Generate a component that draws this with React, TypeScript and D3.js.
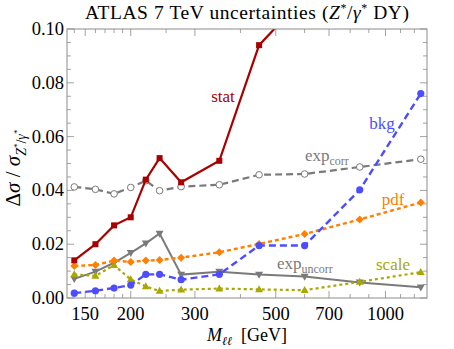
import React from "react";
import * as d3 from "d3";

const masses = [140, 160, 180, 200, 220, 240, 275, 350, 450, 600, 850, 1250];
const statVals = [0.014, 0.020, 0.027, 0.030, 0.044, 0.052, 0.043, 0.051, 0.094, 0.112];
const expCorrVals = [0.0413, 0.0404, 0.0387, 0.0411, 0.0436, 0.0399, 0.0414, 0.0421, 0.0458, 0.0461, 0.0487, 0.0516];
const bkgVals = [0.0018, 0.0027, 0.0037, 0.0048, 0.0088, 0.0088, 0.0068, 0.0088, 0.0195, 0.0195, 0.0402, 0.0760];
const pdfVals = [0.0119, 0.0123, 0.0139, 0.0134, 0.0139, 0.0141, 0.0150, 0.0170, 0.0201, 0.0238, 0.0292, 0.0355];
const scaleVals = [0.0088, 0.0082, 0.0122, 0.0069, 0.0043, 0.0026, 0.0031, 0.0035, 0.0032, 0.0029, 0.0060, 0.0096];
const expUncorrVals = [0.0071, 0.0098, 0.0131, 0.0168, 0.0203, 0.0240, 0.0087, 0.0098, 0.0087, 0.0080, 0.0058, 0.0040];
const xTickVals = [150, 200, 300, 500, 700, 1000];
const xMinorVals = [140, 160, 170, 180, 190, 250, 400, 600, 800, 900, 1100, 1200];
const yTickVals = [0, 0.02, 0.04, 0.06, 0.08, 0.1];

const L = 67, R = 427, T = 29, B = 298;
const FONT = "'Liberation Serif', 'DejaVu Serif', serif";

type Marker = "square" | "ocircle" | "circle" | "diamond" | "tri" | "dtri";

export default function App() {
  const x = d3.scaleLog().domain([133.7, 1300]).range([L, R]);
  const y = d3.scaleLinear().domain([0, 0.1]).range([B, T]);
  const line = d3.line<[number, number]>().x(d => x(d[0])).y(d => y(d[1]));

  const series: { vals: number[]; color: string; dash?: string; width: number; marker: Marker }[] = [
    { vals: expCorrVals, color: "#7a7a7a", dash: "7,4", width: 2.2, marker: "ocircle" },
    { vals: expUncorrVals, color: "#7a7a7a", width: 2, marker: "dtri" },
    { vals: scaleVals, color: "#a8a800", dash: "3,3", width: 2.2, marker: "tri" },
    { vals: pdfVals, color: "#ff7f00", dash: "4,3", width: 2.4, marker: "diamond" },
    { vals: bkgVals, color: "#4d4dff", dash: "7,4", width: 2.4, marker: "circle" },
    { vals: statVals, color: "#a80000", width: 2.2, marker: "square" },
  ];

  const drawMarker = (m: Marker, cx: number, cy: number, color: string, key: string) => {
    switch (m) {
      case "square":
        return <rect key={key} x={cx - 3} y={cy - 3} width={6} height={6} fill={color} />;
      case "circle":
        return <circle key={key} cx={cx} cy={cy} r={3.6} fill={color} />;
      case "ocircle":
        return <circle key={key} cx={cx} cy={cy} r={3.3} fill="white" stroke={color} strokeWidth={1} />;
      case "diamond":
        return <path key={key} d={`M${cx},${cy - 4}L${cx + 4},${cy}L${cx},${cy + 4}L${cx - 4},${cy}Z`} fill={color} />;
      case "tri":
        return <path key={key} d={`M${cx},${cy - 4.2}L${cx + 4},${cy + 2.8}L${cx - 4},${cy + 2.8}Z`} fill={color} />;
      case "dtri":
        return <path key={key} d={`M${cx},${cy + 4.2}L${cx + 4},${cy - 2.8}L${cx - 4},${cy - 2.8}Z`} fill={color} />;
    }
  };

  const yMinor = d3.range(0, 0.1001, 0.005).filter(v => Math.abs((v * 100) % 2) > 1e-6 && Math.abs(((v * 100) % 2) - 2) > 1e-6);

  return (
    <svg width={454} height={349} style={{ position: "absolute", left: 0, top: 0, background: "white" }} fontFamily={FONT}>
      <defs>
        <clipPath id="plotclip">
          <rect x={L} y={T} width={R - L} height={B - T} />
        </clipPath>
      </defs>
      {/* frame ticks */}
      <g stroke="#8c8c8c" strokeWidth={0.8}>
        {yTickVals.map((v, i) => (
          <g key={"yt" + i}>
            <line x1={L} x2={L + 7} y1={y(v)} y2={y(v)} />
            <line x1={R} x2={R - 7} y1={y(v)} y2={y(v)} />
          </g>
        ))}
        {yMinor.map((v, i) => (
          <g key={"ym" + i}>
            <line x1={L} x2={L + 4} y1={y(v)} y2={y(v)} />
            <line x1={R} x2={R - 4} y1={y(v)} y2={y(v)} />
          </g>
        ))}
        {xTickVals.map((v, i) => (
          <g key={"xt" + i}>
            <line x1={x(v)} x2={x(v)} y1={B} y2={B - 7} />
            <line x1={x(v)} x2={x(v)} y1={T} y2={T + 7} />
          </g>
        ))}
        {xMinorVals.map((v, i) => (
          <g key={"xm" + i}>
            <line x1={x(v)} x2={x(v)} y1={B} y2={B - 4} />
            <line x1={x(v)} x2={x(v)} y1={T} y2={T + 4} />
          </g>
        ))}
      </g>
      <g clipPath="url(#plotclip)">
        {series.map((s, si) => {
          const pts: [number, number][] = s.vals.map((v, i) => [masses[i], v]);
          return (
            <g key={"s" + si}>
              <path d={line(pts) || ""} fill="none" stroke={s.color} strokeWidth={s.width} strokeDasharray={s.dash} />
              {pts.filter(p => p[1] <= 0.1).map((p, i) => drawMarker(s.marker, x(p[0]), y(p[1]), s.color, `m${si}-${i}`))}
            </g>
          );
        })}
      </g>
      <rect x={L} y={T} width={R - L} height={B - T} fill="none" stroke="#8c8c8c" strokeWidth={1} />
      {/* tick labels */}
      <g fontSize={18.5} fill="black">
        {yTickVals.map((v, i) => (
          <text key={"yl" + i} x={L - 3} y={y(v)} textAnchor="end" dominantBaseline="central">{v.toFixed(2)}</text>
        ))}
        {xTickVals.map((v, i) => (
          <text key={"xl" + i} x={x(v)} y={B + 16} textAnchor="middle" dominantBaseline="central">{v}</text>
        ))}
      </g>
      {/* series labels */}
      <g fontSize={17}>
        <text x={223} y={102} textAnchor="middle" fill="#a80000">stat</text>
        <text x={382} y={129} textAnchor="middle" fill="#4d4dff">bkg</text>
        <text x={305} y={161} fill="#7a7a7a">exp<tspan dy={4} fontSize={12}>corr</tspan></text>
        <text x={393} y={205} textAnchor="middle" fill="#ff7f00">pdf</text>
        <text x={277} y={269} fill="#7a7a7a">exp<tspan dy={4} fontSize={12}>uncorr</tspan></text>
        <text x={393} y={270} textAnchor="middle" fill="#a8a800">scale</text>
      </g>
      {/* title */}
      <text x={85} y={19} fontSize={19.5} fill="black" textLength={324} lengthAdjust="spacing">
        ATLAS 7 TeV uncertainties (<tspan fontStyle="italic">Z</tspan><tspan dy={-7} fontSize={12}>*</tspan><tspan dy={7}>/</tspan><tspan fontStyle="italic">γ</tspan><tspan dy={-7} fontSize={12}>*</tspan><tspan dy={7}> DY)</tspan>
      </text>
      {/* x label */}
      <text x={247} y={341} textAnchor="middle" fontSize={18} fill="black">
        <tspan fontStyle="italic">M</tspan><tspan dy={4} fontSize={12} fontStyle="italic">ℓℓ</tspan><tspan dy={-4}>{"\u00a0\u00a0[GeV]"}</tspan>
      </text>
      {/* y label */}
      <text transform="translate(20,168) rotate(-90)" textAnchor="middle" fontSize={21} fill="black">
        Δ<tspan fontStyle="italic">σ</tspan> / <tspan fontStyle="italic">σ</tspan><tspan dy={6} fontSize={14} fontStyle="italic">Z</tspan><tspan dy={-6} fontSize={9}>*</tspan><tspan dy={6} fontSize={14}>/</tspan><tspan fontSize={14} fontStyle="italic">γ</tspan><tspan dy={-6} fontSize={9}>*</tspan>
      </text>
    </svg>
  );
}
